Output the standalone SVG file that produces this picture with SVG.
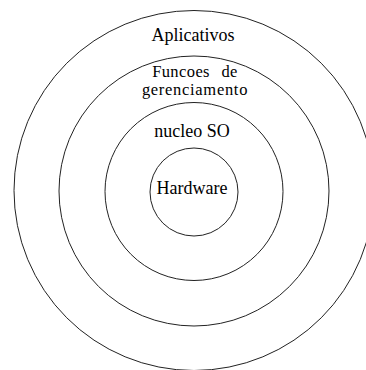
<svg xmlns="http://www.w3.org/2000/svg" width="366" height="370" viewBox="0 0 366 370">
<style>
.ring{fill:none;stroke:#222;stroke-width:1}
.lbl{font-family:"Liberation Serif","Times New Roman",serif;font-size:18px;fill:#000;text-anchor:middle}
.sm{font-size:16.5px}
</style>
<rect width="366" height="370" fill="#fff"/>
<g id="aplicativos">
<circle class="ring" cx="194" cy="190.5" r="180"/>
<text class="lbl" x="193" y="40.5">Aplicativos</text>
</g>
<g id="funcoes">
<circle class="ring" cx="194" cy="191" r="135"/>
<text class="lbl sm" x="195" y="77" word-spacing="7" letter-spacing="0.4">Funcoes de</text>
<text class="lbl sm" x="195" y="95" letter-spacing="0.7">gerenciamento</text>
</g>
<g id="nucleo">
<circle class="ring" cx="194" cy="191.5" r="89"/>
<text class="lbl" x="192" y="136.5">nucleo SO</text>
</g>
<g id="hardware">
<circle class="ring" cx="194" cy="192" r="44"/>
<text class="lbl" x="192" y="194">Hardware</text>
</g>
<g id="connectors"/>
</svg>
